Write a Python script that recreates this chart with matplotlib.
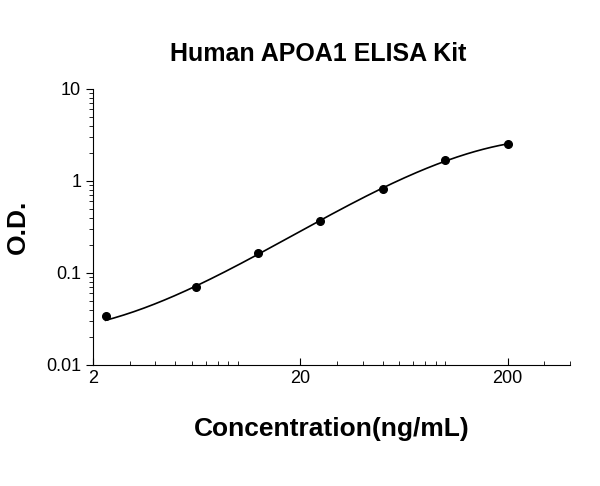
import numpy as np
import matplotlib
matplotlib.use("Agg")
import matplotlib.pyplot as plt
from matplotlib.ticker import FixedLocator, NullFormatter, LogLocator

plt.rcParams['font.family'] = ['Liberation Sans', 'DejaVu Sans']

conc = [2.3, 6.25, 12.5, 25, 50, 100, 200]
od = [0.034, 0.071, 0.165, 0.365, 0.82, 1.7, 2.5]

fig = plt.figure(figsize=(6, 4.86), dpi=100)
ax = fig.add_axes([0.155, 0.249, 0.795, 0.568])
lx, ly = np.log10(conc), np.log10(od)
c = np.polyfit(lx[1:], ly[1:], 3)
xs = np.linspace(lx[0], lx[-1], 200)
ys = np.polyval(c, xs)
ax.plot(10**xs, 10**ys, color="black", lw=1.2)
ax.plot(conc, od, "o", color="black", ms=5.5)
ax.set_xscale("log"); ax.set_yscale("log")
ax.set_xlim(2, 400); ax.set_ylim(0.01, 10)
ax.xaxis.set_major_locator(FixedLocator([2, 20, 200]))
ax.set_xticklabels(["2", "20", "200"])
ax.xaxis.set_minor_locator(FixedLocator([3,4,5,6,7,8,9,10,30,40,50,60,70,80,90,100,300,400]))
ax.xaxis.set_minor_formatter(NullFormatter())
ax.yaxis.set_major_locator(FixedLocator([0.01, 0.1, 1, 10]))
ax.set_yticklabels(["0.01", "0.1", "1", "10"])
ax.yaxis.set_minor_locator(LogLocator(subs=np.arange(2, 10)))
ax.yaxis.set_minor_formatter(NullFormatter())
for s in ["top", "right"]:
    ax.spines[s].set_visible(False)
ax.tick_params(axis="both", which="major", labelsize=13, length=5)
ax.tick_params(axis="x", which="both", direction="in")
ax.tick_params(axis="y", which="both", direction="out")
ax.tick_params(which="minor", length=3)
ax.set_xlabel("Concentration(ng/mL)", fontsize=19, fontweight="bold", labelpad=22)
ax.set_ylabel("O.D.", fontsize=19, fontweight="bold", labelpad=12)
fig.text(0.53, 0.875, "Human APOA1 ELISA Kit", ha="center", fontsize=18, fontweight="bold")
fig.savefig("out.png")
